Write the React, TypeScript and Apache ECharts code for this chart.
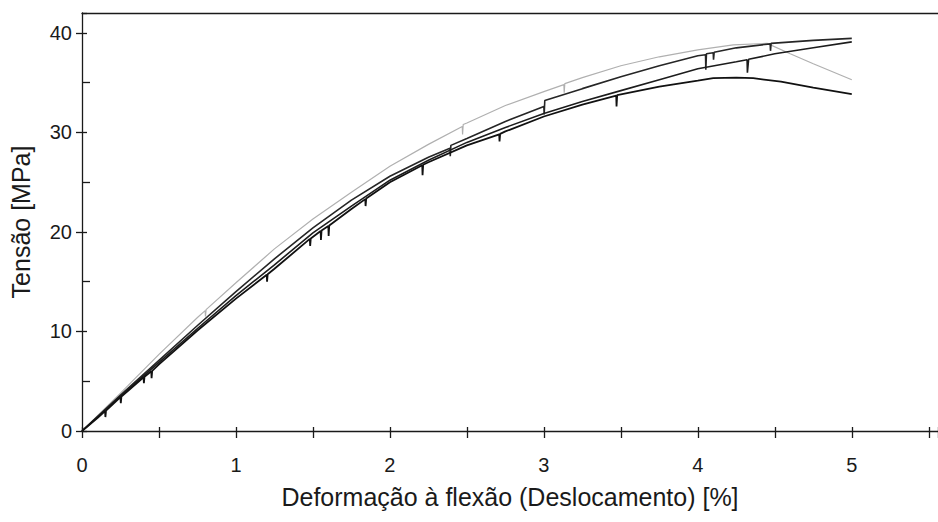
import React, { useEffect, useRef } from "react";
import * as echarts from "echarts";

const xTitle = "Deformação à flexão (Deslocamento) [%]";
const yTitle = "Tensão [MPa]";
const xMin = 0;
const xMax = 5.56;
const yMin = 0;
const yMax = 42;

// light grey specimen
const curveGray: [number, number][] = [
  [0, 0], [0.25, 3.8], [0.5, 7.7], [0.75, 11.4], [0.8, 12.1], [0.802, 11.5], [0.806, 12.2],
  [1.0, 14.9], [1.25, 18.3], [1.5, 21.3], [1.75, 24.0], [2.0, 26.6], [2.25, 28.8],
  [2.47, 30.6], [2.472, 29.8], [2.476, 30.8], [2.5, 30.95], [2.75, 32.7], [3.0, 34.1],
  [3.13, 34.8], [3.132, 34.0], [3.136, 34.9], [3.25, 35.5], [3.5, 36.7], [3.75, 37.6],
  [4.0, 38.3], [4.23, 38.8], [4.45, 38.95], [4.6, 37.9], [4.75, 36.9], [5.0, 35.3],
];

// upper dark specimen
const curveB: [number, number][] = [
  [0, 0], [0.25, 3.6], [0.5, 7.1], [0.75, 10.6], [1.0, 14.0], [1.25, 17.3], [1.5, 20.4],
  [1.75, 23.2], [2.0, 25.6], [2.25, 27.5], [2.39, 28.4], [2.392, 27.6], [2.396, 28.7],
  [2.5, 29.4], [2.75, 31.1], [3.0, 32.6], [3.002, 31.8], [3.006, 33.2], [3.25, 34.4],
  [3.5, 35.6], [3.75, 36.7], [4.0, 37.7], [4.05, 37.8], [4.052, 36.3], [4.056, 37.9],
  [4.1, 38.0], [4.102, 37.3], [4.106, 38.05], [4.25, 38.5], [4.47, 38.9], [4.472, 38.2],
  [4.476, 38.95], [4.75, 39.25], [5.0, 39.45],
];

// middle dark specimen
const curveC: [number, number][] = [
  [0, 0], [0.25, 3.5], [0.5, 6.9], [0.75, 10.3], [1.0, 13.6], [1.25, 16.7], [1.5, 19.9],
  [1.75, 22.6], [2.0, 25.2], [2.25, 27.2], [2.5, 29.0], [2.75, 30.5], [3.0, 31.9],
  [3.25, 33.1], [3.5, 34.2], [3.75, 35.3], [4.0, 36.4], [4.25, 37.1], [4.32, 37.3],
  [4.322, 36.0], [4.33, 37.35], [4.5, 37.9], [4.75, 38.5], [5.0, 39.1],
];

// lowest dark specimen
const curveD: [number, number][] = [
  [0, 0], [0.1, 1.3], [0.15, 2.0], [0.152, 1.4], [0.156, 2.05], [0.25, 3.4], [0.252, 2.8],
  [0.256, 3.45], [0.4, 5.4], [0.402, 4.8], [0.406, 5.45], [0.45, 6.0], [0.452, 5.3],
  [0.456, 6.05], [0.5, 6.7], [0.75, 10.1], [1.0, 13.3], [1.2, 15.7], [1.202, 15.0],
  [1.206, 15.75], [1.25, 16.3], [1.48, 19.3], [1.482, 18.6], [1.486, 19.35], [1.55, 20.1],
  [1.552, 19.2], [1.556, 20.15], [1.6, 20.6], [1.602, 19.6], [1.606, 20.65], [1.75, 22.3],
  [1.84, 23.3], [1.842, 22.6], [1.846, 23.35], [2.0, 25.0], [2.21, 26.7], [2.212, 25.7],
  [2.216, 26.75], [2.25, 27.0], [2.5, 28.7], [2.71, 29.8], [2.712, 29.1], [2.716, 29.85],
  [2.75, 30.1], [3.0, 31.6], [3.25, 32.8], [3.47, 33.7], [3.472, 32.6], [3.476, 33.75],
  [3.75, 34.6], [4.0, 35.2], [4.1, 35.45], [4.25, 35.5], [4.36, 35.45], [4.54, 35.1],
  [4.75, 34.5], [5.0, 33.85],
];

export default function App() {
  const ref = useRef<HTMLDivElement>(null);
  useEffect(() => {
    if (!ref.current) return;
    const chart = echarts.init(ref.current, undefined, { renderer: "svg" });
    const axisColor = "#1a1a1a";
    const font = "'Liberation Sans', Arial, Helvetica, sans-serif";
    const lineStyle = { color: axisColor, width: 1.3 };
    const baseX = {
      type: "value",
      min: xMin,
      max: xMax,
      interval: 1,
      splitLine: { show: false },
    };
    const baseY = {
      type: "value",
      min: yMin,
      max: yMax,
      interval: 10,
      splitLine: { show: false },
    };
    chart.setOption({
      animation: false,
      backgroundColor: "#ffffff",
      grid: { left: 82, right: 0, top: 13, bottom: 91, containLabel: false },
      xAxis: [
        {
          ...baseX,
          position: "bottom",
          axisLine: { show: true, onZero: false, lineStyle },
          axisTick: { show: true, inside: false, length: 7, lineStyle },
          minorTick: { show: true, splitNumber: 2, length: 7, lineStyle },
          axisLabel: {
            fontSize: 20,
            color: axisColor,
            fontFamily: font,
            margin: 24,
            showMaxLabel: false,
          },
          name: xTitle,
          nameLocation: "middle",
          nameGap: 53,
          nameTextStyle: { fontSize: 25, color: axisColor, fontFamily: font },
        },
        {
          ...baseX,
          position: "bottom",
          axisLine: { show: false, onZero: false },
          axisTick: { show: true, inside: true, length: 4, lineStyle },
          minorTick: { show: true, splitNumber: 2, length: 4, lineStyle },
          axisLabel: { show: false },
        },
        {
          ...baseX,
          position: "top",
          axisLine: { show: true, onZero: false, lineStyle },
          axisTick: { show: false },
          axisLabel: { show: false },
        },
      ],
      yAxis: [
        {
          ...baseY,
          position: "left",
          axisLine: { show: true, onZero: false, lineStyle },
          axisTick: { show: true, inside: false, length: 6, lineStyle },
          axisLabel: {
            fontSize: 20,
            color: axisColor,
            fontFamily: font,
            margin: 10,
            showMaxLabel: false,
          },
          name: yTitle,
          nameLocation: "middle",
          nameGap: 49,
          nameTextStyle: { fontSize: 25, color: axisColor, fontFamily: font },
        },
        {
          ...baseY,
          position: "left",
          axisLine: { show: false, onZero: false },
          axisTick: { show: true, inside: true, length: 5, lineStyle },
          minorTick: { show: true, splitNumber: 2, length: 8, lineStyle },
          axisLabel: { show: false },
        },
      ],
      series: [
        {
          type: "line",
          data: curveGray,
          showSymbol: false,
          symbol: "none",
          lineStyle: { color: "#b0b0b0", width: 1.2 },
          z: 2,
        },
        {
          type: "line",
          data: curveB,
          showSymbol: false,
          symbol: "none",
          lineStyle: { color: "#262626", width: 1.6 },
          z: 3,
        },
        {
          type: "line",
          data: curveC,
          showSymbol: false,
          symbol: "none",
          lineStyle: { color: "#1c1c1c", width: 1.6 },
          z: 3,
        },
        {
          type: "line",
          data: curveD,
          showSymbol: false,
          symbol: "none",
          lineStyle: { color: "#111111", width: 1.8 },
          z: 4,
        },
      ],
    });
    return () => chart.dispose();
  }, []);
  return (
    <div
      ref={ref}
      style={{ position: "absolute", left: 0, top: 0, width: 938, height: 522 }}
    />
  );
}
